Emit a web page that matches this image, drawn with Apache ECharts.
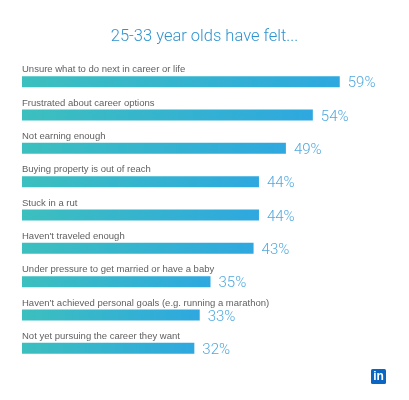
<!DOCTYPE html>
<html>
<head>
<meta charset="utf-8">
<script src="https://cdn.jsdelivr.net/npm/echarts@6/dist/echarts.min.js"></script>
<style>
  html, body { margin: 0; padding: 0; background: #fff; }
  #chart-box { width: 409px; height: 400px; }
</style>
</head>
<body>
<div id="chart-box"></div>
<script>
const categories = [
    'Unsure what to do next in career or life',
    'Frustrated about career options',
    'Not earning enough',
    'Buying property is out of reach',
    'Stuck in a rut',
    "Haven't traveled enough",
    'Under pressure to get married or have a baby',
    "Haven\u2019t achieved personal goals (e.g. running a marathon)",
    'Not yet pursuing the career they want'
]
const values = [59, 54, 49, 44, 44, 43, 35, 33, 32]

const chart = echarts.init(document.getElementById('chart-box'))
chart.setOption({
    animation: false,
    title: {
        text: '25-33 year olds have felt...',
        left: 'center',
        top: 23,
        textStyle: {
            fontFamily: 'Roboto',
            fontWeight: 300,
            fontSize: 16.5,
            color: '#2f93d0'
        }
    },
    grid: {left: 22, right: 10, top: 65, height: 300, containLabel: false},
    xAxis: {
        type: 'value',
        min: 0,
        max: 70,
        show: false
    },
    yAxis: {
        type: 'category',
        data: categories,
        inverse: true,
        axisLine: {show: false},
        axisTick: {show: false},
        axisLabel: {
            inside: true,
            margin: 0,
            align: 'left',
            verticalAlign: 'bottom',
            padding: [0, 0, 7, 0],
            fontFamily: 'Liberation Sans',
            fontSize: 9.5,
            color: '#5f5f5f'
        }
    },
    series: [{
        type: 'bar',
        data: values,
        barWidth: 11,
        itemStyle: {
            color: new echarts.graphic.LinearGradient(0, 0, 1, 0, [
                {offset: 0, color: '#3cbfbe'},
                {offset: 1, color: '#2ea8df'}
            ])
        },
        label: {
            show: true,
            position: 'right',
            distance: 8,
            offset: [0, 2],
            formatter: '{c}%',
            fontFamily: 'Roboto',
            fontWeight: 300,
            fontSize: 15,
            color: '#4fa9df'
        }
    }],
    graphic: [{
        type: 'group',
        left: 371,
        top: 369,
        children: [{
            type: 'rect',
            shape: {x: 0, y: 0, width: 15, height: 15, r: 1.5},
            style: {fill: '#0a66c2'}
        }, {
            type: 'text',
            x: 7.5,
            y: 8,
            style: {
                text: 'in',
                fill: '#fff',
                font: 'bold 12px Liberation Sans',
                align: 'center',
                verticalAlign: 'middle'
            }
        }]
    }]
})
</script>
</body>
</html>
